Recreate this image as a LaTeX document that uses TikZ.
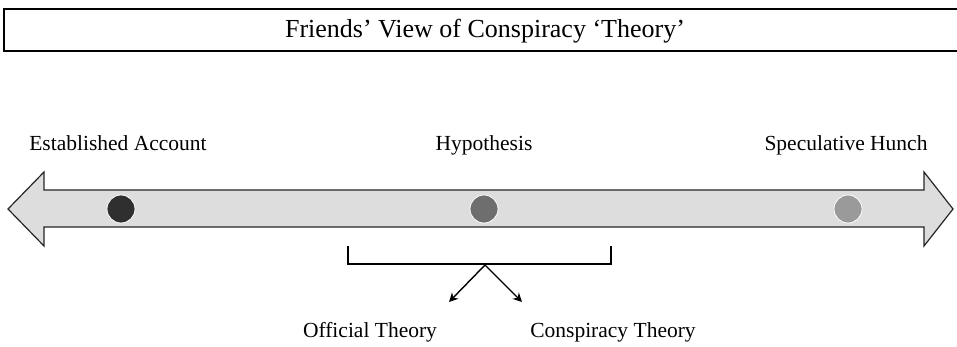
\documentclass[tikz,border=0pt]{standalone}
\usepackage{fontspec}
\setmainfont{Liberation Serif}
\usetikzlibrary{arrows.meta}
\definecolor{shaft}{HTML}{DDDDDD}
\definecolor{dotA}{HTML}{2F2F2F}
\definecolor{dotB}{HTML}{6E6E6E}
\definecolor{dotC}{HTML}{9A9A9A}
\tikzset{
  lbl/.style={inner sep=0pt, anchor=base, font=\fontsize{21.5}{24}\selectfont},
  dotmark/.style={circle, minimum size=28pt, inner sep=0pt, draw=white, line width=0.8pt},
  conn/.style={line width=1.4pt, -{Stealth[length=9pt,width=9pt]}},
}
\begin{document}
\begin{tikzpicture}[x=1pt,y=-1pt]
\useasboundingbox (0,0) rectangle (957,347);
% title
\node[draw, line width=1.4pt, minimum width=958pt, minimum height=42pt, inner sep=0pt] (title) at (483,30) {};
\node[inner sep=0pt, anchor=base, font=\fontsize{26}{28}\selectfont] (titletext) at (485,38) {Friends’ View of Conspiracy ‘Theory’};
% double arrow
\draw[fill=shaft, draw=black!85, line width=1.2pt, line join=miter]
  (8,209) -- (44,172) -- (44,190) -- (924,190) -- (924,172) -- (953,209)
  -- (924,246) -- (924,227) -- (44,227) -- (44,246) -- cycle;
% dots
\node[dotmark, fill=dotA] (d1) at (121,209) {};
\node[dotmark, fill=dotB] (d2) at (484,209) {};
\node[dotmark, fill=dotC] (d3) at (848,209) {};
% labels
\node[lbl] (l1) at (118,151) {Established Account};
\node[lbl] (l2) at (484,151) {Hypothesis};
\node[lbl] (l3) at (846,151) {Speculative Hunch};
% bracket
\coordinate (bl) at (348,246);
\coordinate (br) at (611,246);
\coordinate (apex) at (485,265);
\draw[line width=1.4pt] (bl) -- (348,264) -- (611,264) -- (br);
\coordinate (e1) at (449,302);
\coordinate (e2) at (522,302);
\draw[conn] (apex) -- (e1);
\draw[conn] (apex) -- (e2);
\node[lbl] (o1) at (370,337) {Official Theory};
\node[lbl] (o2) at (613,337) {Conspiracy Theory};
\end{tikzpicture}
\end{document}
